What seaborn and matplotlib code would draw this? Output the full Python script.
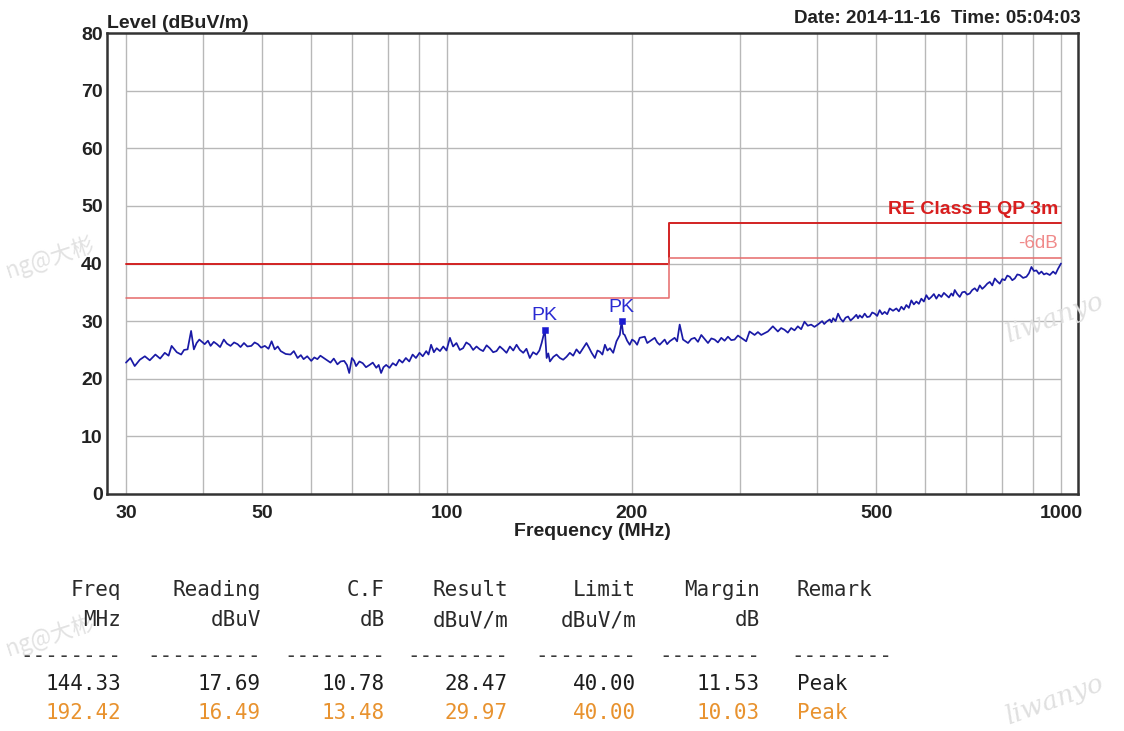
import matplotlib
matplotlib.use("Agg")
import matplotlib.pyplot as plt
import seaborn as sns
import pandas as pd

# ---------------- data ----------------
freq_lo = [
    30.0, 30.5, 31.0, 31.6, 32.2, 32.8, 33.5, 34.1, 34.7, 35.2, 35.6, 36.3, 36.9, 37.3, 37.8, 38.3, 38.7, 39.1, 39.5,
    40.3, 40.8, 41.2, 41.7, 42.2, 42.7, 43.3, 43.8, 44.4, 45.0, 45.6, 46.1, 46.7, 47.3, 48.0, 48.6, 49.2, 49.8,
    50.5, 51.2, 51.8, 52.4, 53.0, 53.6, 54.6, 55.6, 56.3, 57.1, 57.8, 58.4, 59.2, 60.1, 60.8, 61.5, 62.2, 63.0,
    63.8, 64.6, 65.4, 66.3, 67.1, 68.0, 68.7, 69.3, 70.0, 70.6, 71.1, 72.0, 72.9, 73.8, 74.8, 75.7, 76.7, 77.4,
    78.1, 78.8, 79.6, 80.6, 81.6, 82.6, 83.6, 84.6, 85.7, 86.8, 87.9, 89.0, 90.2, 91.3, 92.5, 93.3, 94.2, 95.2,
    96.2, 97.4, 98.6, 99.8, 101.1, 102.3, 103.6, 104.9, 106.2, 107.5, 108.9, 110.3, 111.7, 113.1, 114.5, 116.0,
    117.4, 118.9, 120.4, 121.9, 123.4, 125.0, 126.6, 128.2, 129.8, 131.4, 133.1, 134.7, 136.4, 138.1, 139.9,
    141.4, 142.6, 143.6, 144.33, 145.3, 146.2, 147.1, 149.0, 150.8, 152.7, 154.6, 156.5, 158.5, 160.5, 162.5,
    164.5, 166.6, 168.7, 170.3, 172.0, 174.1, 175.8, 177.4, 179.1, 180.8, 182.5, 184.2, 186.5, 188.8, 191.2,
    192.42, 193.6, 194.7, 196.5, 198.4, 200.2, 202.1, 204.0, 206.0, 209.9, 211.9, 213.9, 217.9, 220.0, 222.0,
    226.2, 228.3, 230.5, 234.8, 237.0, 239.3, 242.3, 246.9, 250.0, 253.1, 256.3, 259.5, 262.8, 266.1, 269.5,
    272.8, 276.2, 279.7, 283.2, 286.8, 290.4, 294.0, 297.7, 301.5, 307.1, 311.0, 316.9, 320.9, 324.9, 329.0,
    333.1, 339.4, 345.8, 350.1, 354.5, 359.0, 363.5, 368.1, 372.7, 377.4, 382.1, 386.9, 391.8, 396.7, 401.7,
]
level_lo = [
    22.8, 23.6, 22.2, 23.3, 23.9, 23.2, 24.2, 23.5, 24.5, 24.0, 25.7, 24.6, 24.2, 25.0, 25.1, 28.3, 25.1, 26.2, 26.8,
    26.0, 26.6, 25.7, 26.4, 26.0, 25.5, 26.8, 26.1, 25.7, 26.3, 26.0, 25.5, 26.2, 25.6, 25.7, 26.3, 26.0, 25.4,
    25.7, 25.2, 26.5, 25.1, 25.6, 24.8, 24.3, 24.2, 24.8, 23.6, 24.1, 23.4, 23.9, 23.1, 23.7, 23.4, 24.0, 23.6,
    23.2, 22.8, 23.5, 22.5, 23.0, 23.1, 22.4, 21.0, 23.6, 23.1, 22.2, 23.0, 22.7, 22.0, 22.4, 22.8, 21.9, 22.4,
    21.0, 22.0, 22.4, 21.9, 22.7, 22.3, 23.3, 22.8, 23.6, 23.0, 24.2, 23.6, 24.5, 23.9, 24.8, 24.2, 25.9, 24.6,
    25.3, 24.8, 25.6, 24.9, 27.1, 25.6, 26.2, 25.0, 25.3, 26.3, 25.9, 25.0, 25.6, 25.1, 24.8, 25.8,
    25.3, 24.6, 24.8, 25.6, 25.1, 24.5, 25.6, 24.9, 25.9, 25.0, 24.5, 25.2, 23.6, 24.6, 24.2,
    24.9, 26.2, 27.5, 28.47, 23.6, 24.4, 23.0, 23.8, 24.2, 23.6, 23.3, 23.8, 24.5, 24.0, 25.1,
    24.4, 25.3, 26.2, 25.4, 24.5, 23.6, 24.9, 24.7, 24.2, 25.9, 24.9, 25.3, 24.5, 26.5, 27.6,
    29.97, 27.8, 27.6, 26.6, 25.9, 26.8, 26.5, 25.9, 27.1, 27.3, 26.2, 26.5, 27.1, 26.3, 25.9,
    26.8, 26.0, 26.5, 27.1, 26.5, 29.4, 26.8, 26.2, 26.9, 27.1, 26.4, 27.6, 26.9, 26.2, 27.0,
    26.8, 26.3, 27.1, 26.6, 27.3, 26.7, 26.8, 27.5, 27.1, 26.5, 28.2, 27.6, 28.1, 27.6, 27.9,
    28.2, 29.1, 28.2, 28.8, 28.5, 28.0, 28.8, 28.4, 29.1, 28.6, 29.9, 29.2, 29.4, 29.0, 29.4,
]
freq_hi = [
    408.3, 411.5, 415.0, 420.2, 422.8, 425.5, 429.4, 433.4, 437.5, 441.6,
    445.8, 450.0, 454.2, 458.5, 464.2, 467.1, 470.0, 474.4, 478.9, 483.4,
    488.0, 492.6, 497.2, 501.9, 506.6, 511.4, 516.2, 521.1, 526.0, 532.6,
    539.3, 544.4, 549.5, 554.7, 559.9, 565.2, 570.5, 575.9, 581.3, 586.8,
    592.3, 597.9, 603.5, 609.2, 615.0, 620.8, 626.6, 632.5, 638.5, 644.5,
    650.6, 656.7, 662.9, 667.1, 671.3, 677.6, 684.0, 690.5, 697.0, 703.6,
    710.2, 716.9, 723.6, 730.5, 737.4, 744.3, 751.3, 758.4, 765.6, 772.8,
    780.1, 787.4, 794.8, 802.3, 809.9, 817.5, 825.2, 833.0, 840.8, 848.8,
    856.8, 867.5, 878.4, 886.6, 895.0, 903.5, 912.0, 920.6, 929.3, 938.0,
    946.9, 958.8, 970.8, 979.9, 989.1, 1000.0,
]
level_hi = [
    30.0, 29.5, 29.9, 30.3, 29.8, 30.5, 30.0, 31.3, 30.4, 29.9,
    30.6, 30.8, 30.1, 30.5, 31.1, 30.5, 31.0, 30.6, 31.3, 30.7,
    30.8, 31.5, 31.3, 30.9, 31.9, 31.2, 31.6, 31.2, 32.2, 31.8,
    32.2, 31.7, 32.5, 32.0, 32.8, 32.3, 33.6, 32.9, 33.4, 33.0,
    33.9, 33.4, 34.5, 33.8, 34.2, 34.7, 33.9, 34.6, 34.2, 34.9,
    34.5, 34.1, 34.8, 34.4, 35.4, 34.7, 34.2, 35.0, 35.1, 34.6,
    34.8, 35.4, 35.7, 35.2, 36.2, 35.6, 36.0, 36.5, 36.8, 36.2,
    37.4, 36.9, 36.5, 37.3, 37.1, 37.9, 37.7, 37.1, 37.4, 38.1,
    38.0, 37.5, 37.7, 38.3, 39.4, 38.7, 38.8, 38.2, 38.6, 38.1,
    38.3, 38.0, 38.6, 38.2, 39.1, 40.0,
]
limit_freq = [30, 230, 230, 1000]
limit_qp = [40, 40, 47, 47]
limit_minus6 = [34, 34, 41, 41]
peak_freq = [144.33, 192.42]
peak_level = [28.47, 29.97]
peak_labels = ["PK", "PK"]

y_ticks = [0, 10, 20, 30, 40, 50, 60, 70, 80]
x_ticks = [30, 50, 100, 200, 500, 1000]
x_grid = [30, 40, 50, 60, 70, 80, 90, 100, 200, 300, 400, 500, 600, 700, 800, 900, 1000]

table_header = ["Freq", "Reading", "C.F", "Result", "Limit", "Margin", "Remark"]
table_units = ["MHz", "dBuV", "dB", "dBuV/m", "dBuV/m", "dB", ""]
table_dashes = ["--------", "---------", "--------", "--------", "--------", "--------", "--------"]
row_1 = ["144.33", "17.69", "10.78", "28.47", "40.00", "11.53", "Peak"]
row_2 = ["192.42", "16.49", "13.48", "29.97", "40.00", "10.03", "Peak"]

# ---------------- style ----------------
sns.set_theme(style="white")
plt.rcParams["font.family"] = ["Liberation Sans", "DejaVu Sans"]

W, H = 1124, 731
fig = plt.figure(figsize=(W / 100, H / 100), dpi=100)
fig.patch.set_facecolor("white")

def fx(px):
    return px / W

def fy(py):
    return 1 - py / H

ax = fig.add_axes([fx(107), fy(494), (1078 - 107) / W, (494 - 33) / H])
ax.set_xscale("log")
ax.set_xlim(27.94, 1065.8)
ax.set_ylim(0, 80)

# grid restricted to the data range
ax.vlines(x_grid, 0, 80, colors="#b8b8b8", linewidth=1.0, zorder=0)
ax.hlines(y_ticks[1:-1], 30, 1000, colors="#b8b8b8", linewidth=1.0, zorder=0)

trace = pd.DataFrame({"Frequency": freq_lo + freq_hi, "Level": level_lo + level_hi})
sns.lineplot(data=trace, x="Frequency", y="Level", ax=ax, color="#1a1aa6",
             linewidth=1.25, estimator=None, sort=False, zorder=4)
sns.lineplot(x=limit_freq, y=limit_qp, ax=ax, color="#d22323", linewidth=1.4,
             estimator=None, sort=False, zorder=3)
sns.lineplot(x=limit_freq, y=limit_minus6, ax=ax, color="#e66a6a", linewidth=1.1,
             estimator=None, sort=False, zorder=3)
sns.scatterplot(x=peak_freq, y=peak_level, ax=ax, marker="s", s=22, color="#1a1ad0",
                edgecolor="#1a1ad0", zorder=5)
for f, v, lab in zip(peak_freq, peak_level, peak_labels):
    ax.annotate(lab, (f, v), xytext=(0, 4), textcoords="offset points", ha="center",
                va="bottom", color="#2a2ad2", fontsize=14)

ax.annotate("RE Class B QP 3m", (limit_freq[-1], limit_qp[-1]), xytext=(-2, 4),
            textcoords="offset points", ha="right", va="bottom", color="#d81e1e",
            fontsize=14, fontweight="bold")
ax.annotate("-6dB", (limit_freq[-1], limit_minus6[-1]), xytext=(-2, 4),
            textcoords="offset points", ha="right", va="bottom", color="#f08a8a",
            fontsize=13.5)

ax.set_xticks(x_ticks)
ax.set_xticklabels([str(t) for t in x_ticks])
ax.minorticks_off()
ax.set_yticks(y_ticks)
ax.set_yticklabels([str(t) for t in y_ticks])
ax.tick_params(axis="both", length=0, labelsize=14, labelcolor="#222222")
ax.tick_params(axis="x", pad=8)
ax.tick_params(axis="y", pad=3)
for lab in ax.get_xticklabels() + ax.get_yticklabels():
    lab.set_fontweight("bold")
ax.set_xlabel("Frequency (MHz)", fontsize=14, fontweight="bold", color="#222222", labelpad=1)
ax.set_ylabel("")
for sp in ax.spines.values():
    sp.set_visible(True)
    sp.set_color("#333333")
    sp.set_linewidth(1.8)
ax.set_facecolor("white")

fig.text(fx(107), fy(28), "Level (dBuV/m)", fontsize=14, fontweight="bold",
         color="#222222", ha="left", va="baseline")
fig.text(fx(1081), fy(23), "Date: 2014-11-16  Time: 05:04:03", fontsize=13.5,
         fontweight="bold", color="#222222", ha="right", va="baseline")

# watermarks (faint)
wm_kw = dict(color="#e2e2e2", fontsize=16, rotation=18, ha="left", va="center",
             family=["Noto Sans CJK SC", "DejaVu Sans"])
fig.text(fx(3), fy(258), "ng@大彬", **wm_kw)
fig.text(fx(3), fy(636), "ng@大彬", **wm_kw)
wm2_kw = dict(color="#e0e0e0", fontsize=19, rotation=20, ha="left", va="center",
              family="DejaVu Serif", style="italic")
fig.text(fx(1002), fy(318), "liwanyo", **wm2_kw)
fig.text(fx(1002), fy(700), "liwanyo", **wm2_kw)

# results table
col_right = [121, 261, 385, 508, 636, 760]
remark_left = 797
mono = dict(family="DejaVu Sans Mono", fontsize=15, va="baseline")
rows = [(table_header, 596, "#2a2a2a"), (table_units, 626, "#2a2a2a"),
        (table_dashes, 662, "#3a3a3a"), (row_1, 690, "#1e1e1e"), (row_2, 719, "#e8922e")]
for cells, base, col in rows:
    for i, txt in enumerate(cells):
        if i < 6:
            fig.text(fx(col_right[i]), fy(base), txt, ha="right", color=col, **mono)
        else:
            x0 = remark_left - 6 if txt.startswith("-") else remark_left
            fig.text(fx(x0), fy(base), txt, ha="left", color=col, **mono)

fig.savefig("out.png", dpi=100, facecolor="white")
